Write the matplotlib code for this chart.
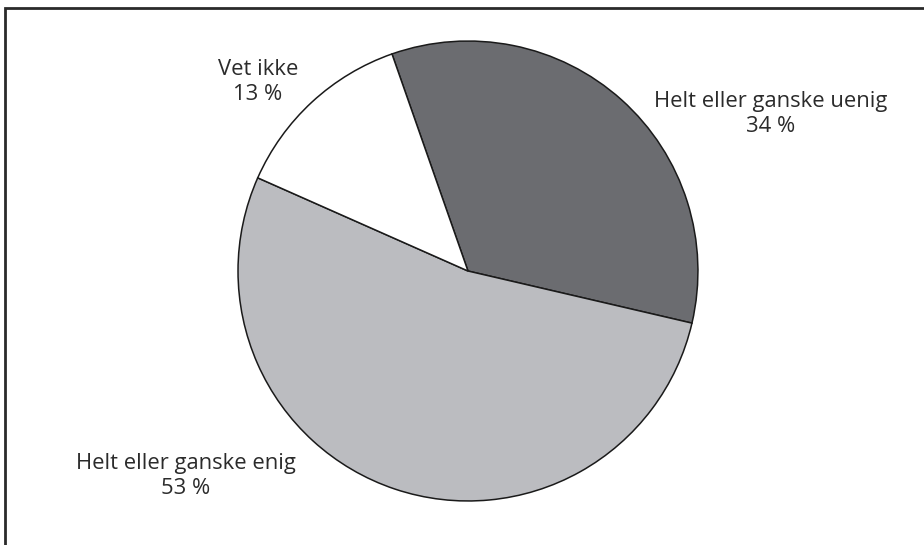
import matplotlib.pyplot as plt
from matplotlib.patches import Rectangle

categories = ['Helt eller ganske uenig', 'Helt eller ganske enig', 'Vet ikke']
shares = [34, 53, 13]
colors = ['#6b6c70', '#bbbcc0', '#ffffff']

plt.rcParams['font.family'] = ['Open Sans', 'DejaVu Sans']

fig = plt.figure(figsize=(9.24, 5.45), dpi=100)
ax = fig.add_axes([0, 0, 1, 1])
ax.pie(shares, colors=colors, startangle=109.3, counterclock=False, radius=1,
       wedgeprops=dict(edgecolor='#1a1a1a', linewidth=1.1))
ax.set_xlim(-2.035, 1.983)
ax.set_ylim(-1.191, 1.178)
ax.set_aspect('equal')
ax.axis('off')

label_pos = [(1.317, 0.683), (-1.226, -0.891), (-0.913, 0.822)]
for name, val, (x, y) in zip(categories, shares, label_pos):
    ax.text(x, y, f'{name}\n{val} %', ha='center', va='center',
            fontsize=15.8, color='#2b2b2b', linespacing=1.25)

# frame of the figure panel (right and bottom edges fall outside the image)
fig.patches.append(Rectangle((5 / 924, -0.1), 1.2, 537 / 545 + 0.1,
                             transform=fig.transFigure, fill=False,
                             edgecolor='#2a2a2a', linewidth=2))

fig.savefig('out.png', dpi=100)
